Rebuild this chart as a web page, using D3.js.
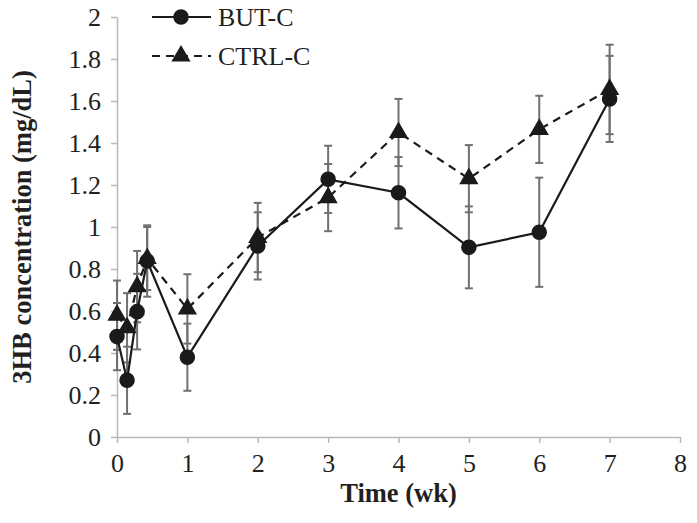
<!DOCTYPE html>
<html>
<head>
<meta charset="utf-8">
<script src="https://cdn.jsdelivr.net/npm/d3@7"></script>
<style>
  body { margin: 0; background: #fff; }
  text { font-family: "Liberation Serif", "Times New Roman", serif; fill: #231f20; }
</style>
</head>
<body>
<div id="chart"></div>
<script>
// time in weeks (first points are days 0-3)
var weeks = [0, 0.143, 0.286, 0.429, 1, 2, 3, 4, 5, 6, 7];
var butMean = [0.478, 0.27, 0.597, 0.838, 0.38, 0.91, 1.227, 1.163, 0.903, 0.975, 1.61];
var butSd   = [0.16, 0.16, 0.18, 0.17, 0.16, 0.16, 0.16, 0.17, 0.195, 0.26, 0.205];
var ctrlMean = [0.58, 0.52, 0.716, 0.85, 0.61, 0.95, 1.14, 1.45, 1.23, 1.465, 1.655];
var ctrlSd   = [0.165, 0.165, 0.17, 0.15, 0.165, 0.165, 0.16, 0.16, 0.16, 0.16, 0.213];
var xTicks = [0, 1, 2, 3, 4, 5, 6, 7, 8];
var yTicks = [0, 0.2, 0.4, 0.6, 0.8, 1, 1.2, 1.4, 1.6, 1.8, 2];

var W = 697, H = 523;
var margin = { top: 17, right: 17, bottom: 86, left: 117 };
var width = W - margin.left - margin.right;
var height = H - margin.top - margin.bottom;

var svg = d3.select('#chart').append('svg')
  .attr('width', W).attr('height', H);
var g = svg.append('g')
  .attr('transform', 'translate(' + margin.left + ',' + margin.top + ')');

var x = d3.scaleLinear().domain([0, 8]).range([0, width]);
var y = d3.scaleLinear().domain([0, 2]).range([height, 0]);

// axes
var xAxis = g.append('g').attr('transform', 'translate(0,' + height + ')')
  .call(d3.axisBottom(x).tickValues(xTicks).tickSize(6).tickSizeOuter(0).tickPadding(11).tickFormat(d3.format('d')));
var yAxis = g.append('g')
  .call(d3.axisLeft(y).tickValues(yTicks).tickSize(6).tickSizeOuter(0).tickPadding(10).tickFormat(function (d) { return String(+d.toFixed(1)); }));
[xAxis, yAxis].forEach(function (a) {
  a.selectAll('path, line').attr('stroke', '#b8b8b8').attr('stroke-width', 1.5);
  a.selectAll('text').style('font-size', '26px').attr('fill', '#231f20');
});

// axis titles
svg.append('text')
  .attr('x', margin.left + width / 2).attr('y', 502)
  .attr('text-anchor', 'middle')
  .style('font-size', '26.5px').style('font-weight', 'bold')
  .text('Time (wk)');
svg.append('text')
  .attr('transform', 'translate(31,' + (margin.top + height / 2) + ') rotate(-90)')
  .attr('text-anchor', 'middle')
  .style('font-size', '26.5px').style('font-weight', 'bold')
  .text('3HB concentration (mg/dL)');

var series = [
  { name: 'BUT-C', mean: butMean, sd: butSd, dash: null, shape: d3.symbolCircle, size: 190 },
  { name: 'CTRL-C', mean: ctrlMean, sd: ctrlSd, dash: '8,6', shape: d3.symbolTriangle, size: 160 }
];
series.forEach(function (s) {
  s.pts = weeks.map(function (w, i) { return { t: w, v: s.mean[i], e: s.sd[i] }; });
});

// error bars
series.forEach(function (s) {
  var eb = g.append('g').attr('stroke', '#707070').attr('stroke-width', 2);
  s.pts.forEach(function (p) {
    eb.append('line').attr('x1', x(p.t)).attr('x2', x(p.t))
      .attr('y1', y(p.v + p.e)).attr('y2', y(p.v - p.e));
    [p.v + p.e, p.v - p.e].forEach(function (v) {
      eb.append('line').attr('x1', x(p.t) - 4).attr('x2', x(p.t) + 4)
        .attr('y1', y(v)).attr('y2', y(v));
    });
  });
});

var line = d3.line().x(function (d) { return x(d.t); }).y(function (d) { return y(d.v); });

series.forEach(function (s) {
  g.append('path').datum(s.pts)
    .attr('d', line)
    .attr('fill', 'none')
    .attr('stroke', '#1a1a1a')
    .attr('stroke-width', 2.2)
    .attr('stroke-dasharray', s.dash);
});
series.forEach(function (s) {
  g.selectAll(null).data(s.pts).enter().append('path')
    .attr('d', d3.symbol().type(s.shape).size(s.size))
    .attr('transform', function (d) { return 'translate(' + x(d.t) + ',' + y(d.v) + ')'; })
    .attr('fill', '#1a1a1a');
});

// legend
var legend = svg.append('g');
series.forEach(function (s, i) {
  var ly = 17 + i * 39;
  legend.append('line').attr('x1', 152).attr('x2', 211).attr('y1', ly).attr('y2', ly)
    .attr('stroke', '#1a1a1a').attr('stroke-width', 2.2).attr('stroke-dasharray', s.dash);
  legend.append('path')
    .attr('d', d3.symbol().type(s.shape).size(s.size))
    .attr('transform', 'translate(181,' + ly + ')')
    .attr('fill', '#1a1a1a');
  legend.append('text').attr('x', 218).attr('y', ly + 9)
    .style('font-size', '26px').text(s.name);
});
</script>
</body>
</html>
